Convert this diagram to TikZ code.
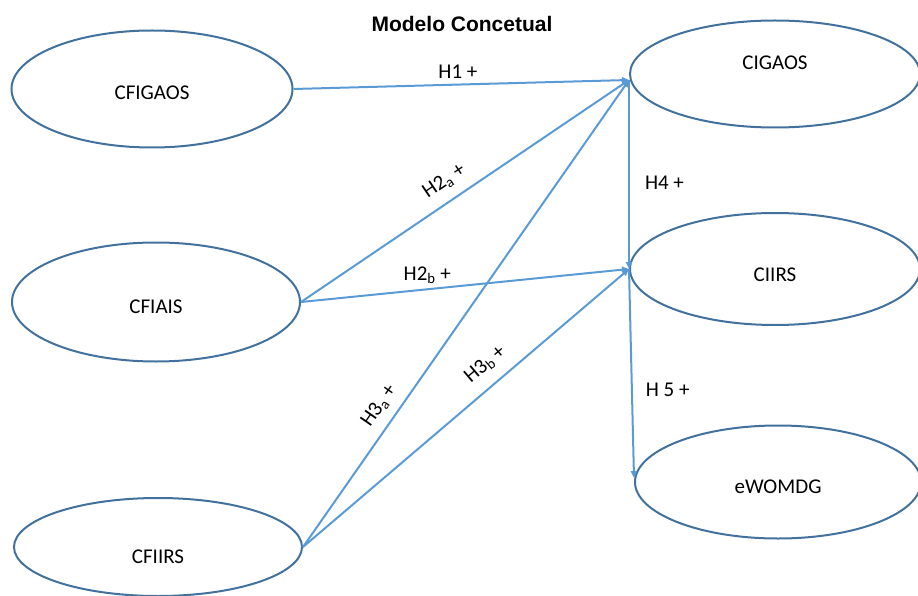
\documentclass[tikz,border=0pt]{standalone}
\usepackage{fontspec}
\setmainfont{Carlito}
\newfontfamily\titlefont{Liberation Sans}
\usetikzlibrary{shapes.geometric,arrows.meta}
\definecolor{ringblue}{HTML}{41719C}
\definecolor{pathblue}{HTML}{5B9BD5}
\tikzset{
  construct/.style={ellipse, draw=ringblue, line width=2pt, inner sep=0pt},
  hyp/.style={draw=pathblue, line width=2pt, -{Triangle[length=7pt,width=6pt]}},
  hlabel/.style={font=\fontsize{21}{25}\selectfont, inner sep=1pt},
  every label/.style={font=\fontsize{21}{25}\selectfont, inner sep=0pt}
}

\begin{document}
\begin{tikzpicture}[x=1pt,y=-1pt]
\useasboundingbox (0,0) rectangle (918,596);
\node[font=\titlefont\bfseries\fontsize{21}{25}\selectfont] (title) at (462,24) {Modelo Concetual};
% constructos
\node[construct, minimum width=281pt, minimum height=117pt, label={[yshift=-4pt]center:CFIGAOS}] (cfigaos) at (152,89) {};
\node[construct, minimum width=288pt, minimum height=119pt, label={[yshift=-5pt]center:CFIAIS}] (cfiais) at (156,302) {};
\node[construct, minimum width=288pt, minimum height=98pt, label={[yshift=-10pt]center:CFIIRS}] (cfiirs) at (158,547) {};
\node[construct, minimum width=290pt, minimum height=107pt, label={[yshift=11pt]center:CIGAOS}] (cigaos) at (775,74) {};
\node[construct, minimum width=290pt, minimum height=112pt, label={[yshift=-6pt]center:CIIRS}] (ciirs) at (775,269) {};
\node[construct, minimum width=286pt, minimum height=113pt, label={[yshift=-5pt]center:eWOMDG}] (ewomdg) at (778,482) {};
\coordinate (hub) at ([yshift=-6pt]cigaos.west);
% hipoteses
\draw[hyp] (cfigaos.east) -- node[hlabel, above=4pt, pos=0.49] (h1) {H1 +} (hub);
\draw[hyp] (cfiais.east) -- node[hlabel, sloped, above=9pt, pos=0.47] (h2a) {H2\textsubscript{a} +} (hub);
\draw[hyp] (cfiais.east) -- node[hlabel, above=4pt, pos=0.385] (h2b) {H2\textsubscript{b} +} (ciirs.west);
\draw[hyp] (cfiirs.east) -- node[hlabel, sloped, above=8pt, pos=0.28] (h3a) {H3\textsubscript{a} +} (hub);
\draw[hyp] (cfiirs.east) -- node[hlabel, sloped, above=10pt, pos=0.6] (h3b) {H3\textsubscript{b} +} (ciirs.west);
\draw[hyp] (hub) -- node[hlabel, right=14pt, pos=0.545] (h4) {H4 +} (ciirs.west);
\draw[hyp] (ciirs.west) -- node[hlabel, right=12pt, pos=0.58] (h5) {H 5 +} ([yshift=4pt]ewomdg.west);
\end{tikzpicture}
\end{document}
